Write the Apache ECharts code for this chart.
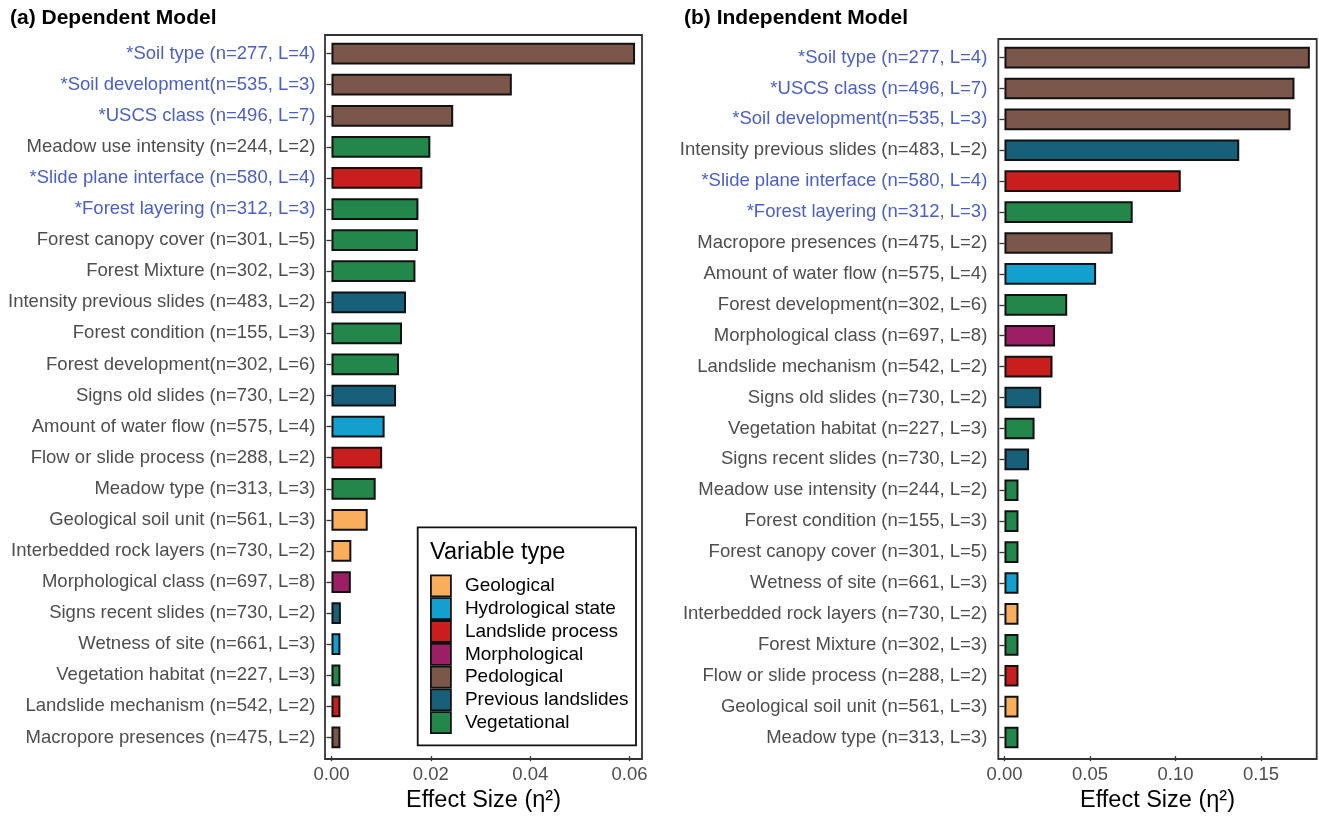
<!DOCTYPE html>
<html>
<head>
<meta charset="utf-8">
<script src="https://cdn.jsdelivr.net/npm/echarts@6/dist/echarts.min.js"></script>
<style>
  html, body { margin: 0; padding: 0; background: #fff; }
  #chart { width: 1319px; height: 818px; }
</style>
</head>
<body>
<div id="chart"></div>
<script>
// ---- Data -------------------------------------------------------------
const typeNames = ['Geological', 'Hydrological state', 'Landslide process', 'Morphological',
                   'Pedological', 'Previous landslides', 'Vegetational'];

// (a) Dependent model
const labelsA = [
  '*Soil type (n=277, L=4)',
  '*Soil development(n=535, L=3)',
  '*USCS class (n=496, L=7)',
  'Meadow use intensity (n=244, L=2)',
  '*Slide plane interface (n=580, L=4)',
  '*Forest layering (n=312, L=3)',
  'Forest canopy cover (n=301, L=5)',
  'Forest Mixture (n=302, L=3)',
  'Intensity previous slides (n=483, L=2)',
  'Forest condition (n=155, L=3)',
  'Forest development(n=302, L=6)',
  'Signs old slides (n=730, L=2)',
  'Amount of water flow (n=575, L=4)',
  'Flow or slide process (n=288, L=2)',
  'Meadow type (n=313, L=3)',
  'Geological soil unit (n=561, L=3)',
  'Interbedded rock layers (n=730, L=2)',
  'Morphological class (n=697, L=8)',
  'Signs recent slides (n=730, L=2)',
  'Wetness of site (n=661, L=3)',
  'Vegetation habitat (n=227, L=3)',
  'Landslide mechanism (n=542, L=2)',
  'Macropore presences (n=475, L=2)'
];
const valuesA = [0.0611, 0.0363, 0.0245, 0.0199, 0.0183, 0.0175, 0.0174, 0.0169, 0.0150, 0.0142,
                 0.0136, 0.0130, 0.0107, 0.0102, 0.0089, 0.0073, 0.0040, 0.0039, 0.0019, 0.0018,
                 0.0018, 0.0018, 0.0018];
const typesA = ['Pedological', 'Pedological', 'Pedological', 'Vegetational', 'Landslide process',
                'Vegetational', 'Vegetational', 'Vegetational', 'Previous landslides', 'Vegetational',
                'Vegetational', 'Previous landslides', 'Hydrological state', 'Landslide process',
                'Vegetational', 'Geological', 'Geological', 'Morphological', 'Previous landslides',
                'Hydrological state', 'Vegetational', 'Landslide process', 'Pedological'];
const ticksA = [0, 0.02, 0.04, 0.06];

// (b) Independent model
const labelsB = [
  '*Soil type (n=277, L=4)',
  '*USCS class (n=496, L=7)',
  '*Soil development(n=535, L=3)',
  'Intensity previous slides (n=483, L=2)',
  '*Slide plane interface (n=580, L=4)',
  '*Forest layering (n=312, L=3)',
  'Macropore presences (n=475, L=2)',
  'Amount of water flow (n=575, L=4)',
  'Forest development(n=302, L=6)',
  'Morphological class (n=697, L=8)',
  'Landslide mechanism (n=542, L=2)',
  'Signs old slides (n=730, L=2)',
  'Vegetation habitat (n=227, L=3)',
  'Signs recent slides (n=730, L=2)',
  'Meadow use intensity (n=244, L=2)',
  'Forest condition (n=155, L=3)',
  'Forest canopy cover (n=301, L=5)',
  'Wetness of site (n=661, L=3)',
  'Interbedded rock layers (n=730, L=2)',
  'Forest Mixture (n=302, L=3)',
  'Flow or slide process (n=288, L=2)',
  'Geological soil unit (n=561, L=3)',
  'Meadow type (n=313, L=3)'
];
const valuesB = [0.1786, 0.1696, 0.1673, 0.1373, 0.1031, 0.0750, 0.0633, 0.0536, 0.0367, 0.0296,
                 0.0281, 0.0215, 0.0176, 0.0144, 0.0082, 0.0082, 0.0082, 0.0082, 0.0082, 0.0082,
                 0.0082, 0.0082, 0.0082];
const typesB = ['Pedological', 'Pedological', 'Pedological', 'Previous landslides', 'Landslide process',
                'Vegetational', 'Pedological', 'Hydrological state', 'Vegetational', 'Morphological',
                'Landslide process', 'Previous landslides', 'Vegetational', 'Previous landslides',
                'Vegetational', 'Vegetational', 'Vegetational', 'Hydrological state', 'Geological',
                'Vegetational', 'Landslide process', 'Geological', 'Vegetational'];
const ticksB = [0, 0.05, 0.10, 0.15];

// ---- Styling ----------------------------------------------------------
const typeColors = {
  'Geological': '#F8AE5B',
  'Hydrological state': '#13A0CE',
  'Landslide process': '#C81E1E',
  'Morphological': '#9C1F64',
  'Pedological': '#7A574A',
  'Previous landslides': '#185F7A',
  'Vegetational': '#23864A'
};
const FONT = '"Liberation Sans", Arial, Helvetica, sans-serif';
const TEXT_GREY = '#4d4d4d';
const STAR_BLUE = '#4a5ec4';
const FRAME = '#333333';
const BAR_EDGE = { borderColor: '#111', borderWidth: 2 };

// panel geometry (plot frames); categories are inset by 0.1 band like ggplot's discrete expansion
const panels = [
  { x: 325, y: 35, w: 317, h: 724, min: -0.0013, max: 0.0625, labelMargin: 9.5 },
  { x: 998.3, y: 39, w: 318.4, h: 720, min: -0.0036, max: 0.1826, labelMargin: 11 }
];
panels.forEach(p => { p.inset = p.h / 23.2 * 0.1; });

const barData = (vals, types) => vals.map((v, i) => ({
  value: v,
  itemStyle: { color: typeColors[types[i]] }
}));

function yAxisFor(labels, idx) {
  return {
    type: 'category', gridIndex: idx, data: labels, inverse: true,
    axisLine: { show: false },
    axisTick: { show: true, alignWithLabel: true, length: 5, lineStyle: { color: FRAME, width: 1.3 } },
    axisLabel: {
      fontFamily: FONT, fontSize: 18.5, margin: panels[idx].labelMargin,
      color: (value) => (String(value).startsWith('*') ? STAR_BLUE : TEXT_GREY)
    }
  };
}

function xAxisFor(idx, ticks) {
  const p = panels[idx];
  return {
    type: 'value', gridIndex: idx, min: p.min, max: p.max, offset: p.inset,
    splitLine: { show: false },
    axisLine: { show: false },
    axisTick: { show: true, length: 5, customValues: ticks, lineStyle: { color: FRAME, width: 1.3 } },
    axisLabel: {
      customValues: ticks, fontFamily: FONT, fontSize: 18.5, color: TEXT_GREY, margin: 9,
      formatter: v => Number(v).toFixed(2)
    },
    name: 'Effect Size (\u03B7\u00B2)', nameLocation: 'middle', nameGap: 31,
    nameTextStyle: { fontFamily: FONT, fontSize: 23.5, color: '#000' }
  };
}

const frameRects = panels.map(p => ({
  type: 'rect', z: 10,
  shape: { x: p.x, y: p.y, width: p.w, height: p.h },
  style: { fill: 'none', stroke: FRAME, lineWidth: 1.8 }
}));

// legend box and its title
const legendBox = { x: 417.7, y: 527.3, w: 218.3, h: 218 };

const option = {
  animation: false,
  backgroundColor: '#fff',
  title: [
    { text: '(a) Dependent Model', left: 10, top: 8, padding: 0,
      textStyle: { fontFamily: FONT, fontSize: 21, fontWeight: 'bold', color: '#000' } },
    { text: '(b) Independent Model', left: 684, top: 8, padding: 0,
      textStyle: { fontFamily: FONT, fontSize: 21, fontWeight: 'bold', color: '#000' } }
  ],
  grid: [
    ...panels.map(p => ({ left: p.x, top: p.y + p.inset, width: p.w, height: p.h - 2 * p.inset, containLabel: false })),
    // hidden grid carrying the legend-only series
    { left: 0, top: 0, width: 1, height: 1, show: false }
  ],
  xAxis: [xAxisFor(0, ticksA), xAxisFor(1, ticksB), { type: 'value', gridIndex: 2, show: false }],
  yAxis: [yAxisFor(labelsA, 0), yAxisFor(labelsB, 1), { type: 'category', gridIndex: 2, show: false, data: ['x'] }],
  legend: {
    orient: 'vertical', left: 430, top: 574.5, padding: 0,
    itemWidth: 20, itemHeight: 21, itemGap: 0,
    selectedMode: false,
    icon: 'rect',
    itemStyle: { borderColor: '#111', borderWidth: 1.8 },
    textStyle: { fontFamily: FONT, fontSize: 19, lineHeight: 21, color: '#000', padding: [0, 0, 0, 9] },
    data: typeNames
  },
  graphic: [
    ...frameRects,
    { type: 'rect', z: 1,
      shape: { x: legendBox.x, y: legendBox.y, width: legendBox.w, height: legendBox.h },
      style: { fill: '#fff', stroke: '#111', lineWidth: 1.8 } },
    { type: 'text', z: 11, x: 430, y: 553,
      style: { text: 'Variable type', fontFamily: FONT, fontSize: 23.5, fill: '#000', verticalAlign: 'middle' } }
  ],
  series: [
    {
      type: 'bar', name: 'Dependent', xAxisIndex: 0, yAxisIndex: 0, barWidth: '70%',
      data: barData(valuesA, typesA),
      itemStyle: BAR_EDGE
    },
    {
      type: 'bar', name: 'Independent', xAxisIndex: 1, yAxisIndex: 1, barWidth: '70%',
      data: barData(valuesB, typesB),
      itemStyle: BAR_EDGE
    },
    ...typeNames.map(t => ({
      type: 'bar', name: t, xAxisIndex: 2, yAxisIndex: 2, stack: 'legend', data: [],
      itemStyle: Object.assign({ color: typeColors[t] }, BAR_EDGE)
    }))
  ]
};

const chart = echarts.init(document.getElementById('chart'), null, { renderer: 'canvas' });
chart.setOption(option);
</script>
</body>
</html>
